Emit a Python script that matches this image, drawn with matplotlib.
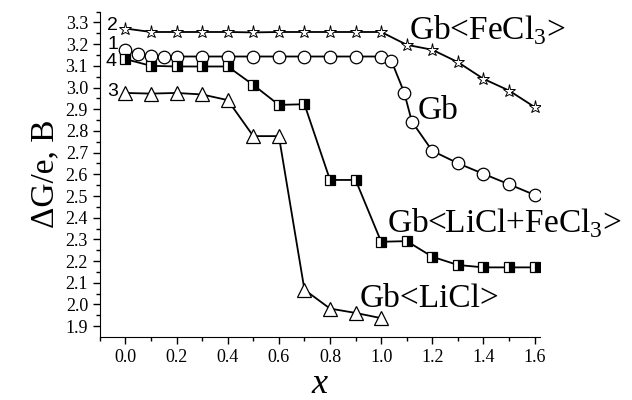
import matplotlib
matplotlib.use("Agg")
import matplotlib.pyplot as plt
from matplotlib.ticker import MultipleLocator, FormatStrFormatter

plt.rcParams["font.family"] = ["Liberation Serif", "DejaVu Serif"]
plt.rcParams["mathtext.fontset"] = "custom"
plt.rcParams["mathtext.rm"] = "Liberation Serif"

# curve 1: Gb
x_gb = [0.0, 0.05, 0.1, 0.15, 0.2, 0.3, 0.4, 0.5, 0.6, 0.7, 0.8, 0.9, 1.0,
        1.04, 1.09, 1.12, 1.2, 1.3, 1.4, 1.5, 1.6]
y_gb = [3.174, 3.154, 3.146, 3.143, 3.143, 3.143, 3.143, 3.143, 3.143, 3.143, 3.143, 3.143, 3.143,
        3.123, 2.977, 2.843, 2.708, 2.651, 2.602, 2.554, 2.505]

# curve 2: Gb<FeCl3>
x_fe = [0.0, 0.1, 0.2, 0.3, 0.4, 0.5, 0.6, 0.7, 0.8, 0.9, 1.0, 1.1, 1.2, 1.3, 1.4, 1.5, 1.6]
y_fe = [3.272, 3.256, 3.256, 3.256, 3.256, 3.254, 3.256, 3.256, 3.256, 3.256, 3.256,
        3.197, 3.174, 3.117, 3.04, 2.986, 2.91]

# curve 3: Gb<LiCl>
x_li = [0.0, 0.1, 0.2, 0.3, 0.4, 0.5, 0.6, 0.7, 0.8, 0.9, 1.0]
y_li = [2.975, 2.972, 2.975, 2.968, 2.942, 2.776, 2.776, 2.068, 1.981, 1.961, 1.937]

# curve 4: Gb<LiCl+FeCl3>
x_lf = [0.0, 0.1, 0.2, 0.3, 0.4, 0.5, 0.6, 0.7, 0.8, 0.9, 1.0, 1.1, 1.2, 1.3, 1.4, 1.5, 1.6]
y_lf = [3.131, 3.10, 3.097, 3.097, 3.097, 3.012, 2.92, 2.923, 2.574, 2.574, 2.289, 2.292,
        2.22, 2.182, 2.171, 2.171, 2.171]

fig = plt.figure(figsize=(6.32, 4.0), dpi=100)
ax = fig.add_axes([0.158, 0.158, 0.696, 0.813])

lw = 1.3
ax.plot(x_fe, y_fe, color="black", lw=lw, marker="*", ms=9.5, mfc="white", mec="black", mew=0.7)
ax.plot(x_gb, y_gb, color="black", lw=lw, marker="o", ms=9, mfc="white", mec="black", mew=0.9)
ax.plot(x_lf, y_lf, color="black", lw=lw, marker="s", ms=6.5, mfc="black", mfcalt="white",
        fillstyle="right", mec="black", mew=0.9)
ax.plot(x_li, y_li, color="black", lw=lw, marker="^", ms=10, mfc="white", mec="black", mew=0.9)

# curve numbers
num_font = ["Liberation Sans", "DejaVu Sans"]
ax.text(-0.05, 3.285, "2", fontsize=14, ha="center", va="center", family=num_font)
ax.text(-0.05, 3.197, "1", fontsize=14, ha="center", va="center", family=num_font)
ax.text(-0.055, 3.119, "4", fontsize=14, ha="center", va="center", family=num_font)
ax.text(-0.05, 2.98, "3", fontsize=14, ha="center", va="center", family=num_font)

# curve names
ax.text(1.107, 3.223, "Gb<FeCl$_3$>", fontsize=24, va="baseline")
ax.text(1.142, 2.856, "Gb", fontsize=24, va="baseline")
ax.text(1.021, 2.333, "Gb<LiCl+FeCl$_3$>", fontsize=24, va="baseline")
ax.text(0.916, 1.989, "Gb<LiCl>", fontsize=24, va="baseline")

ax.set_xlim(-0.1, 1.62)
ax.set_ylim(1.851, 3.35)
ax.spines["top"].set_visible(False)
ax.spines["right"].set_visible(False)
ax.xaxis.set_major_locator(MultipleLocator(0.2))
ax.xaxis.set_minor_locator(MultipleLocator(0.1))
ax.yaxis.set_major_locator(MultipleLocator(0.1))
ax.yaxis.set_minor_locator(MultipleLocator(0.05))
ax.xaxis.set_major_formatter(FormatStrFormatter("%.1f"))
ax.yaxis.set_major_formatter(FormatStrFormatter("%.1f"))
ax.tick_params(which="major", direction="out", length=5, width=1, labelsize=13)
ax.tick_params(which="minor", direction="out", length=3, width=1)

ax.set_ylabel("ΔG/e, B", fontsize=24, labelpad=4)
ax.set_xlabel("x", fontsize=26, style="italic", labelpad=2)

fig.savefig("out.png", dpi=100)
